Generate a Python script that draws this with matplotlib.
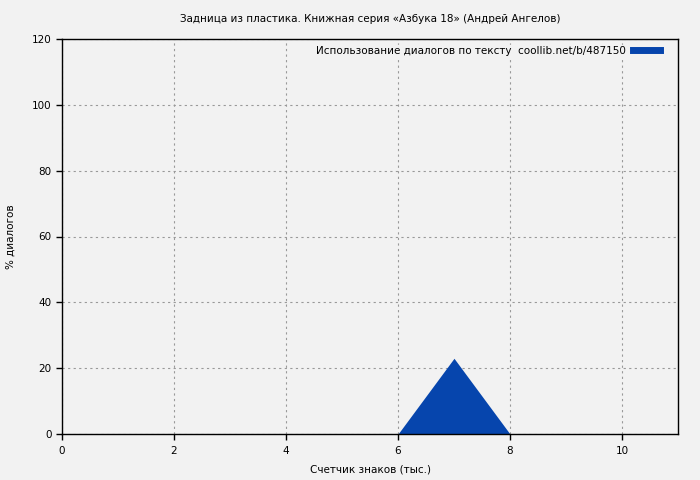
import matplotlib
matplotlib.use("Agg")
import matplotlib.pyplot as plt
from matplotlib.lines import Line2D

title = "Задница из пластика. Книжная серия «Азбука 18» (Андрей Ангелов)"
xlabel = "Счетчик знаков (тыс.)"
ylabel = "% диалогов"
legend_label = "Использование диалогов по тексту  coollib.net/b/487150"

x_vals = [0, 1, 2, 3, 4, 5, 6, 7, 8, 9, 10, 11]
y_vals = [0, 0, 0, 0, 0, 0, 0, 23, 0, 0, 0, 0]

xticks = [0, 2, 4, 6, 8, 10]
yticks = [0, 20, 40, 60, 80, 100, 120]

bg = "#f2f2f2"
fill_color = "#0645ad"

plt.rcParams['font.family'] = ['DejaVu Sans']
fig = plt.figure(figsize=(7, 4.8), dpi=100, facecolor=bg)
ax = fig.add_axes([62/700, 1-434/480, (678-62)/700, (434-39)/480], facecolor=bg)

ax.fill_between(x_vals, y_vals, 0, color=fill_color, linewidth=0, zorder=2)

ax.set_xlim(0, 11)
ax.set_ylim(0, 120)
ax.set_xticks(xticks)
ax.set_yticks(yticks)
ax.tick_params(direction='out', length=4, width=1, labelsize=7.5, colors='black')
ax.tick_params(axis='x', pad=5)
ax.grid(True, linestyle=(0, (2, 3)), color='#999999', linewidth=0.8, zorder=1)
ax.set_axisbelow(True)
for s in ax.spines.values():
    s.set_linewidth(1.0)
    s.set_color('black')
    s.set_zorder(3)

ax.set_title(title, fontsize=7.5, pad=12)
ax.set_xlabel(xlabel, fontsize=7.5, labelpad=6)
ax.set_ylabel(ylabel, fontsize=7.5, labelpad=12)

handle = Line2D([0], [0], color=fill_color, linewidth=5)
leg = ax.legend([handle], [legend_label], loc='upper right', markerfirst=False,
                bbox_to_anchor=(1 - 17/616, 1 - 6/395),
                frameon=True, fontsize=7.5, handlelength=2.6, borderaxespad=0,
                borderpad=0.1, handletextpad=0.7)
leg.get_frame().set_facecolor(bg)
leg.get_frame().set_edgecolor(bg)
leg.get_frame().set_alpha(1)
leg.set_zorder(4)

fig.savefig("out.png", dpi=100, facecolor=bg)
